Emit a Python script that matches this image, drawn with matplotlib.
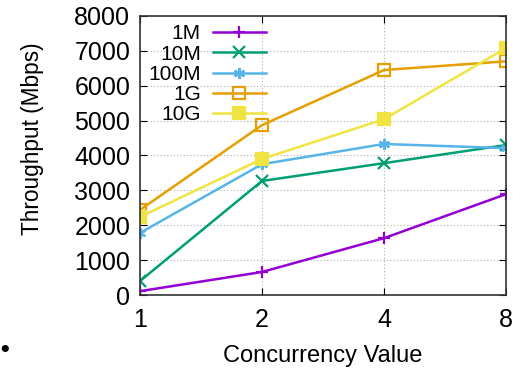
import matplotlib
matplotlib.use('Agg')
import matplotlib.pyplot as plt

plt.rcParams['font.family'] = ['Liberation Sans', 'DejaVu Sans']

concurrency = [1, 2, 4, 8]
labels = ['1M', '10M', '100M', '1G', '10G']
t_1m = [110, 660, 1630, 2890]
t_10m = [400, 3270, 3780, 4300]
t_100m = [1780, 3750, 4330, 4210]
t_1g = [2440, 4870, 6450, 6700]
t_10g = [2240, 3900, 5040, 7080]
series = [t_1m, t_10m, t_100m, t_1g, t_10g]

colors = ['#9400d3', '#009e73', '#56b4e9', '#e69f00', '#f0e442']
markers = ['+', 'x', (6, 2, 0), 's', 's']
mfc = [None, None, None, 'none', '#f0e442']

fig = plt.figure(figsize=(5.16, 3.70), dpi=100)
ax = fig.add_axes([0.2713, 0.2027, 0.7093, 0.7541])

for lab, ys, c, m, f in zip(labels, series, colors, markers, mfc):
    kw = dict(color=c, marker=m, markersize=8, markeredgewidth=1.6, lw=1.8, label=lab)
    if f is not None:
        kw['markerfacecolor'] = f
    ax.plot(concurrency, ys, **kw)

ax.set_xscale('log', base=2)
ax.set_xlim(1, 8)
ax.set_xticks(concurrency)
ax.set_xticklabels([str(c) for c in concurrency])
ax.minorticks_off()
ax.set_ylim(0, 8000)
ax.set_yticks(range(0, 8001, 1000))

ax.grid(True, color='#b0b0b0', linestyle=(0, (1, 2)), lw=0.8)
ax.tick_params(direction='in', top=True, right=True, labelsize=18, length=5)
ax.tick_params(axis='x', pad=9)
ax.tick_params(axis='y', pad=7)
for s in ax.spines.values():
    s.set_linewidth(1.2)
    s.set_color('#333333')

ax.set_xlabel('Concurrency Value', fontsize=17, labelpad=10)
ax.set_ylabel('Throughput (Mbps)', fontsize=16.3)
ax.yaxis.set_label_coords(-0.262, 0.56)

leg = ax.legend(loc='upper left', markerfirst=False, frameon=False, fontsize=15,
                handlelength=2.5, handletextpad=0.6, labelspacing=0.06,
                borderaxespad=0.0, bbox_to_anchor=(0.0, 1.0))
for t in leg.get_texts():
    t.set_ha('right')
leg._legend_box.align = 'right'

fig.text(0.0, 0.035, '\u2022', fontsize=18, fontweight='bold')

fig.savefig('out.png', dpi=100)
